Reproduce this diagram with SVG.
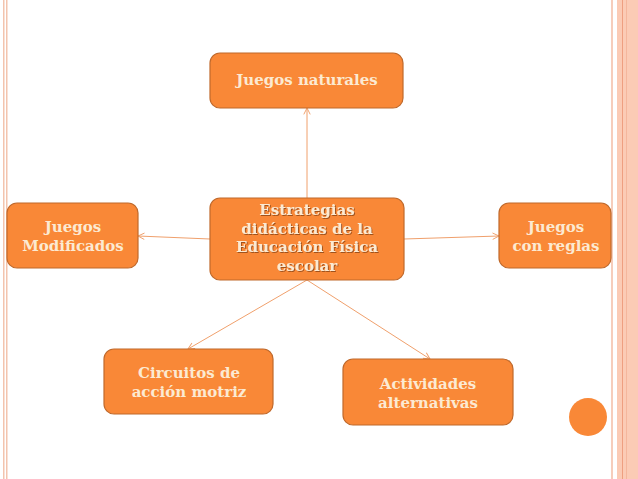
<svg xmlns="http://www.w3.org/2000/svg" width="638" height="479" viewBox="0 0 638 479">
<style>
.box{fill:#F98837;stroke:#C0692B;stroke-width:1.2}
.t{font-family:"DejaVu Serif",serif;font-weight:bold;font-size:15px;fill:#FCEAD2;text-anchor:middle}
.c{stroke:#F0A06C;stroke-width:1;fill:none;marker-end:url(#ah)}
</style>
<defs>
<marker id="ah" viewBox="0 0 10 10" refX="9" refY="5" markerWidth="8" markerHeight="8" orient="auto" markerUnits="userSpaceOnUse">
<path d="M1,1 L9,5 L1,9" fill="none" stroke="#F0A06C" stroke-width="1.2"/>
</marker>
<filter id="sh" x="-10%" y="-10%" width="120%" height="130%">
<feDropShadow dx="1" dy="1" stdDeviation="0.6" flood-color="#7a3a10" flood-opacity="0.7"/>
</filter>
</defs>
<rect width="638" height="479" fill="#ffffff"/>
<g id="border">
<rect x="3" y="0" width="1.5" height="479" fill="#F3C4AE"/>
<rect x="6" y="0" width="1.5" height="479" fill="#F3C4AE"/>
<rect x="611" y="0" width="2" height="479" fill="#F6CDBB"/>
<rect x="617" y="0" width="21" height="479" fill="#FBCBB5"/>
<rect x="622" y="0" width="1" height="479" fill="#EE9F80"/>
<rect x="626" y="0" width="1" height="479" fill="#F4B69C"/>
</g>
<g id="connectors">
<line class="c" x1="307" y1="198" x2="307" y2="108"/>
<line class="c" x1="210" y1="239" x2="138" y2="236"/>
<line class="c" x1="404" y1="239" x2="499" y2="236"/>
<line class="c" x1="307" y1="280" x2="188" y2="349"/>
<line class="c" x1="307" y1="280" x2="430" y2="359"/>
</g>
<g id="center">
<rect class="box" x="210" y="198" width="194" height="82" rx="10"/>
<g filter="url(#sh)">
<text class="t" x="307" y="215">Estrategias</text>
<text class="t" x="307" y="234">didácticas de la</text>
<text class="t" x="307" y="252">Educación Física</text>
<text class="t" x="307" y="271">escolar</text>
</g>
</g>
<g id="naturales">
<rect class="box" x="210" y="53" width="193" height="55" rx="10"/>
<text class="t" x="307" y="85">Juegos naturales</text>
</g>
<g id="modificados">
<rect class="box" x="7" y="203" width="131" height="65" rx="10"/>
<text class="t" x="73" y="232">Juegos</text>
<text class="t" x="73" y="251">Modificados</text>
</g>
<g id="reglas">
<rect class="box" x="499" y="203" width="112" height="65" rx="10"/>
<text class="t" x="556" y="232">Juegos</text>
<text class="t" x="556" y="251">con reglas</text>
</g>
<g id="circuitos">
<rect class="box" x="104" y="349" width="169" height="65" rx="10"/>
<text class="t" x="189" y="378">Circuitos de</text>
<text class="t" x="189" y="397">acción motriz</text>
</g>
<g id="actividades">
<rect class="box" x="343" y="359" width="170" height="66" rx="10"/>
<text class="t" x="428" y="389">Actividades</text>
<text class="t" x="428" y="408">alternativas</text>
</g>
<circle cx="588" cy="417" r="19" fill="#F98837"/>
</svg>
